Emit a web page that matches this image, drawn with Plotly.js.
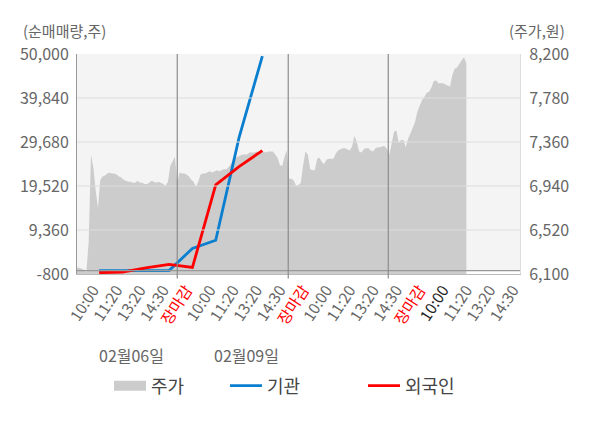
<!DOCTYPE html>
<html><head><meta charset="utf-8">
<script src="https://cdn.plot.ly/plotly-3.0.1.min.js"></script>
<style>html,body{margin:0;padding:0;background:#fff}</style>
</head><body><div id="chart" style="width:600px;height:428px"></div>
<script>
// ---- data ----
const tickLabels = ['10:00','11:20','13:20','14:30','장마감','10:00','11:20','13:20','14:30','장마감','10:00','11:20','13:20','14:30','장마감','10:00','11:20','13:20','14:30'];
const priceValues = [
6160,6160,6150,6140,6120,6400,7240,7120,6900,6730,
7000,7030,7040,7060,7070,7060,7060,7050,7030,7020,
7000,6990,6980,6980,6970,6970,6990,6970,6970,6960,
6960,6970,6990,6980,6970,6980,6970,6960,6940,6980,
7130,7170,7220,6970,7070,7060,7060,7050,7030,7000,
6980,6930,6980,7050,7060,7060,7070,7080,7070,7080,
7090,7080,7090,7100,7100,7120,7150,7190,7210,7220,
7230,7240,7240,7240,7260,7260,7260,7270,7260,7260,
7270,7260,7270,7270,7270,7240,7210,7140,7130,7220,
7280,7010,7010,6990,6940,6950,6970,7140,7270,7240,
7100,7090,7090,7200,7210,7170,7150,7190,7200,7200,
7200,7250,7280,7290,7300,7300,7290,7280,7320,7420,
7360,7270,7260,7290,7300,7300,7280,7270,7300,7310,
7310,7320,7320,7290,7240,7360,7460,7470,7350,7380,
7380,7310,7390,7440,7490,7550,7650,7710,7760,7790,
7830,7840,7880,7940,7950,7920,7920,7920,7910,7900,
7890,8000,8060,8070,8110,8140,8170,8110
];
const institutionNet = [0, 0, 0, 0, 5100, 7000, 30700, 49500];
const foreignNet = [-500, -350, 600, 1400, 700, 19800, 24000, 27700];
const volumeTicks = [-800, 9360, 19520, 29680, 39840, 50000];
const priceTicks = [6100, 6520, 6940, 7360, 7780, 8200];
const dayBreaks = [43, 90.6, 133.5];
const dateLabels = ['02월06일', '02월09일'];

// ---- build ----
const SLOT = 10;               // time units per tick slot
const priceX = priceValues.map((_, i) => i);
const flowX = institutionNet.map((_, i) => 9.5 + i * SLOT);
const tickVals = tickLabels.map((_, i) => 7 + i * SLOT);
const tickText = tickLabels.map((t, i) => t === '장마감' ? '<span style="color:#ff0000">' + t + '</span>' : (i === 15 ? '<span style="color:#222222">' + t + '</span>' : t));
const fmt = v => v.toLocaleString('en-US');
const FONT = '"Noto Sans CJK KR", "Noto Sans", sans-serif';
const LEGEND_FONT = {family: FONT, size: 18, color: '#444444'};
const legendPos = px => (px - 77) / 443;

const traces = [
  {x: priceX, y: priceValues, name: '주가', type: 'scatter', mode: 'lines', fill: 'tozeroy',
   fillcolor: '#cccccc', line: {width: 0, color: '#cccccc'}, xaxis: 'x', yaxis: 'y', showlegend: false},
  // legend-only key for the price area (a null point draws nothing)
  {x: [null], y: [null], name: '주가', type: 'scatter', mode: 'lines', line: {width: 14, color: '#cccccc'},
   xaxis: 'x', yaxis: 'y', legend: 'legend', showlegend: true},
  {x: flowX, y: institutionNet, name: '기관', type: 'scatter', mode: 'lines',
   line: {color: '#0a7fd0', width: 2.8}, xaxis: 'x', yaxis: 'y2', legend: 'legend2'},
  {x: flowX, y: foreignNet, name: '외국인', type: 'scatter', mode: 'lines',
   line: {color: '#ff0000', width: 2.8}, xaxis: 'x', yaxis: 'y2', legend: 'legend3'}
];

const shapes = [];
shapes.push({type: 'rect', xref: 'paper', x0: 0, x1: 1, yref: 'y2', y0: 0, y1: volumeTicks[volumeTicks.length-1],
  fillcolor: '#f4f4f4', line: {width: 0}, layer: 'below'});
volumeTicks.slice(1, -1).forEach(v => shapes.push({type: 'line', xref: 'paper', x0: 0, x1: 1, yref: 'y2', y0: v, y1: v,
  line: {color: '#dddddd', width: 1}, layer: 'above'}));
shapes.push({type: 'line', xref: 'paper', x0: 0, x1: 1, yref: 'y2', y0: 0, y1: 0, line: {color: '#999999', width: 1.2}, layer: 'above'});
dayBreaks.forEach(d => shapes.push({type: 'line', xref: 'x', x0: d, x1: d, yref: 'paper', y0: -0.02, y1: 1,
  line: {color: '#8c8c8c', width: 1.2}, layer: 'above'}));

const legendBase = {orientation: 'h', xanchor: 'left', y: -0.509, yanchor: 'middle', font: LEGEND_FONT,
  itemwidth: 32, bgcolor: 'rgba(0,0,0,0)', borderwidth: 0};

const layout = {
  width: 600, height: 428,
  margin: {l: 77, r: 80, t: 54, b: 154, pad: 0},
  paper_bgcolor: '#ffffff', plot_bgcolor: '#ffffff',
  font: {family: FONT, size: 15, color: '#666666'},
  showlegend: true,
  legend: Object.assign({}, legendBase, {x: legendPos(109)}),
  legend2: Object.assign({}, legendBase, {x: legendPos(225)}),
  legend3: Object.assign({}, legendBase, {x: legendPos(363)}),
  xaxis: {range: [0, 19 * SLOT], tickvals: tickVals, ticktext: tickText, tickangle: -57,
    tickfont: {family: FONT, size: 15.5, color: '#666666'}, showgrid: false, zeroline: false,
    showline: true, linecolor: '#bbbbbb', linewidth: 1, ticks: '', fixedrange: true},
  yaxis: {side: 'right', range: [priceTicks[0], priceTicks[priceTicks.length-1]], tickvals: priceTicks,
    ticktext: priceTicks.map(fmt), showgrid: false, zeroline: false, showline: true, linecolor: '#dddddd',
    tickfont: {family: FONT, size: 16, color: '#666666'}, ticks: '', ticklabelstandoff: 5},
  yaxis2: {side: 'left', overlaying: 'y', range: [volumeTicks[0], volumeTicks[volumeTicks.length-1]], tickvals: volumeTicks,
    ticktext: volumeTicks.map(fmt), showgrid: false, zeroline: false, showline: true, linecolor: '#999999',
    tickfont: {family: FONT, size: 16, color: '#666666'}, ticks: '', ticklabelstandoff: 4},
  shapes: shapes,
  annotations: [
    {text: '(순매매량,주)', xref: 'paper', yref: 'paper', x: -0.126, y: 1.105, xanchor: 'left', yanchor: 'middle',
     showarrow: false, font: {family: FONT, size: 15, color: '#666666'}},
    {text: '(주가,원)', xref: 'paper', yref: 'paper', x: 1.106, y: 1.105, xanchor: 'right', yanchor: 'middle',
     showarrow: false, font: {family: FONT, size: 15, color: '#666666'}},
    {text: dateLabels[0], xref: 'x', yref: 'paper', x: 23.5, y: -0.368, xanchor: 'center', yanchor: 'middle',
     showarrow: false, font: {family: FONT, size: 16, color: '#666666'}},
    {text: dateLabels[1], xref: 'x', yref: 'paper', x: 72.5, y: -0.368, xanchor: 'center', yanchor: 'middle',
     showarrow: false, font: {family: FONT, size: 16, color: '#666666'}}
  ]
};

Plotly.newPlot('chart', traces, layout, {displayModeBar: false, staticPlot: true});
</script>
</body></html>
